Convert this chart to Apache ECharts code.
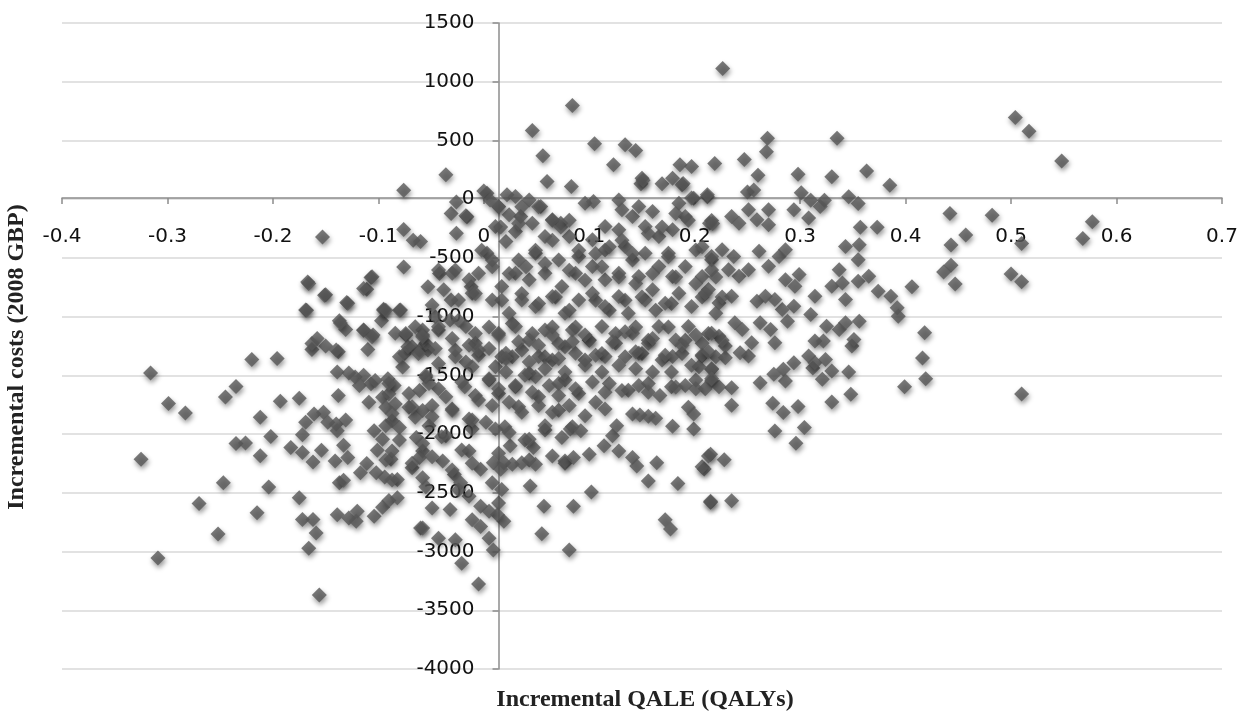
<!DOCTYPE html>
<html>
<head>
<meta charset="utf-8">
<script src="https://cdn.jsdelivr.net/npm/echarts@6/dist/echarts.min.js"></script>
<style>
html,body{margin:0;padding:0;background:#fff;}
#chart{width:1243px;height:714px;}
</style>
</head>
<body>
<div id="chart"></div>
<script>
// Axis ticks
const xTicks = [-0.4,-0.3,-0.2,-0.1,0,0.1,0.2,0.3,0.4,0.5,0.6,0.7];
const yTicks = [-4000,-3500,-3000,-2500,-2000,-1500,-1000,-500,0,500,1000,1500];

// [incremental QALE, incremental cost] pairs, grouped by region of the plot
const farLeft = [[-0.316,-1480],[-0.299,-1740],[-0.283,-1820],[-0.325,-2215],[-0.309,-3055],[-0.270,-2590],[-0.252,-2850],[-0.247,-2415],[-0.245,-1685],[-0.235,-1595],[-0.220,-1365],[-0.196,-1357],[-0.235,-2080],[-0.226,-2075],[-0.212,-1857],[-0.202,-2020],[-0.212,-2185],[-0.215,-2670],[-0.204,-2450],[-0.193,-1720],[-0.175,-1694],[-0.183,-2114],[-0.172,-2157],[-0.162,-2237],[-0.175,-2543],[-0.172,-2728],[-0.162,-2728],[-0.159,-2843],[-0.166,-2971],[-0.156,-3371]];

const midLeft = [[-0.167,-706],[-0.150,-814],[-0.169,-943],[-0.158,-1186],[-0.150,-1251],[-0.163,-1280],[-0.138,-1300],[-0.130,-880],[-0.137,-1034],[-0.131,-1109],[-0.111,-766],[-0.107,-666],[-0.076,-577],[-0.114,-1114],[-0.105,-1157],[-0.095,-937],[-0.097,-1034],[-0.079,-943],[-0.110,-1280],[-0.139,-1471],[-0.128,-1480],[-0.138,-1671],[-0.161,-1828],[-0.152,-1814],[-0.169,-1900],[-0.172,-2006],[-0.148,-1900],[-0.140,-1914],[-0.131,-1880],[-0.139,-1971],[-0.154,-2137],[-0.133,-2094],[-0.141,-2229],[-0.129,-2200],[-0.137,-2414],[-0.133,-2394],[-0.139,-2686],[-0.128,-2714],[-0.120,-2657],[-0.121,-2743],[-0.104,-1971],[-0.111,-2251],[-0.102,-2329],[-0.094,-2366],[-0.082,-2386],[-0.117,-2329],[-0.104,-2700],[-0.096,-2623],[-0.090,-2566],[-0.082,-2543],[-0.060,-2800],[-0.122,-1514],[-0.114,-1500],[-0.118,-1586],[-0.107,-1571],[-0.103,-1543],[-0.091,-1529],[-0.085,-1586],[-0.109,-1729],[-0.096,-1686],[-0.090,-1657],[-0.093,-1771],[-0.084,-1743],[-0.087,-1886],[-0.093,-1928],[-0.080,-1943],[-0.096,-2043],[-0.101,-2137],[-0.087,-2143],[-0.088,-2214],[-0.074,-1157],[-0.075,-1314],[-0.077,-1429],[-0.068,-1257],[-0.071,-1771],[-0.068,-2286],[-0.064,-2029],[-0.061,-1629],[-0.058,-1800],[-0.065,-1857],[-0.058,-2143],[-0.061,-2200],[-0.058,-2371],[-0.055,-1514],[-0.058,-1114],[-0.061,-1286]];

const nearAxisUpper = [[-0.076,77],[-0.036,207],[-0.031,-122],[-0.016,-150],[-0.026,-23],[-0.026,-291],[-0.076,-258],[-0.067,-349],[-0.153,-321],[-0.106,-661],[-0.114,-760],[-0.166,-717],[-0.151,-817],[-0.129,-885],[-0.168,-945],[-0.095,-945],[-0.080,-945],[-0.042,-632],[-0.027,-604],[-0.053,-746],[-0.012,-746],[-0.031,-859],[-0.046,-1002],[-0.065,-1087],[-0.084,-1141],[-0.136,-1055],[-0.114,-1115],[-0.072,-1257],[-0.053,-1285],[-0.163,-1228],[-0.140,-1285],[-0.106,-1172],[0.003,51],[-0.017,-142],[-0.060,-361],[-0.043,-602],[-0.030,-630],[-0.014,-687],[-0.038,-772],[-0.024,-858],[-0.049,-900],[-0.011,-801],[-0.005,-630],[-0.032,-1028],[-0.017,-1085],[-0.043,-1113],[-0.055,-1227],[-0.008,-1227],[-0.027,-1284]];

const nearAxisLower = [[-0.014,-2143],[-0.039,-2229],[-0.028,-2343],[-0.003,-2300],[-0.022,-2414],[-0.014,-2529],[-0.049,-2629],[-0.032,-2643],[-0.011,-2729],[-0.003,-2614],[-0.058,-2800],[-0.043,-2886],[-0.027,-2900],[-0.021,-3100],[-0.005,-3277],[-0.003,-2786],[-0.058,-1157],[-0.046,-1271],[-0.030,-1186],[-0.014,-1243],[-0.017,-1386],[-0.005,-1329],[-0.055,-1500],[-0.043,-1614],[-0.021,-1557],[-0.008,-1671],[-0.049,-1757],[-0.030,-1786],[-0.014,-1871],[-0.052,-1929],[-0.036,-2014],[-0.011,-1957]];

const leftCore = [[-0.093,-945],[-0.074,-1143],[-0.058,-1172],[-0.043,-1087],[-0.024,-1030],[-0.008,-1143],[-0.080,-1342],[-0.062,-1313],[-0.043,-1398],[-0.027,-1342],[-0.011,-1427],[-0.090,-1569],[-0.071,-1654],[-0.052,-1569],[-0.036,-1682],[-0.018,-1597],[-0.005,-1710],[-0.087,-1824],[-0.068,-1767],[-0.049,-1852],[-0.030,-1796],[-0.011,-1881],[-0.080,-2051],[-0.058,-2080],[-0.040,-2023],[-0.021,-2136],[-0.093,-2221],[-0.068,-2249],[-0.049,-2193],[-0.030,-2306],[-0.011,-2249],[-0.087,-2391],[-0.055,-2448],[-0.024,-2476],[0.011,-1427],[0.027,-1342],[0.043,-1483],[0.065,-1370],[0.077,-1540],[0.014,-1654],[0.033,-1767],[0.052,-1682],[0.071,-1796],[0.020,-1938],[0.039,-2051],[0.058,-1966],[0.084,-1938],[0.014,-2164],[0.043,-2221],[0.077,-2249]];

const aboveZero = [[0.000,70],[0.046,585],[0.056,369],[0.060,150],[0.084,798],[0.083,108],[0.105,471],[0.123,293],[0.134,463],[0.144,415],[0.150,179],[0.149,131],[0.169,131],[0.179,179],[0.188,122],[0.186,293],[0.197,278],[0.2265,1112],[0.504,695],[0.517,579],[0.548,326],[0.269,519],[0.268,403],[0.335,519],[0.363,241],[0.385,119],[0.330,190],[0.298,213],[0.260,204],[0.247,338],[0.219,304],[0.151,162],[0.189,133],[0.212,20],[0.199,8],[0.250,62],[0.256,78],[0.301,54],[0.310,-9],[0.323,-9],[0.346,20],[0.355,-36]];

const farRight = [[0.442,-122],[0.482,-136],[0.577,-193],[0.568,-335],[0.457,-306],[0.443,-391],[0.510,-377],[0.443,-562],[0.436,-619],[0.447,-723],[0.500,-638],[0.510,-704],[0.406,-746],[0.418,-1138],[0.416,-1353],[0.510,-1659],[0.235,-2567],[0.215,-2581],[0.312,-1438]];

const rightCluster = [[0.319,-62],[0.294,-91],[0.270,-91],[0.251,-91],[0.235,-147],[0.242,-204],[0.259,-175],[0.270,-218],[0.216,-181],[0.308,-161],[0.357,-238],[0.373,-238],[0.343,-402],[0.356,-388],[0.355,-515],[0.337,-600],[0.330,-741],[0.340,-713],[0.343,-855],[0.355,-699],[0.365,-657],[0.374,-784],[0.386,-826],[0.392,-925],[0.393,-996],[0.314,-826],[0.299,-642],[0.286,-685],[0.295,-741],[0.294,-911],[0.283,-940],[0.310,-982],[0.288,-1039],[0.325,-1081],[0.337,-1109],[0.343,-1053],[0.356,-1039],[0.349,-1251],[0.351,-1194],[0.314,-1208],[0.322,-1208],[0.308,-1336],[0.314,-1392],[0.324,-1364],[0.330,-1463],[0.321,-1534],[0.346,-1472],[0.348,-1661],[0.330,-1726],[0.419,-1528],[0.399,-1596],[0.294,-1392],[0.284,-1449],[0.286,-1548],[0.275,-1491],[0.262,-1562],[0.274,-1738],[0.284,-1817],[0.298,-1766],[0.304,-1944],[0.276,-1973],[0.296,-2077],[0.235,-1605],[0.235,-1755],[0.215,-2171],[0.228,-2219],[0.209,-2298],[0.216,-1548],[0.251,-1336],[0.243,-1307],[0.229,-1350],[0.254,-1223],[0.262,-1053],[0.272,-1109],[0.276,-1223],[0.259,-869],[0.267,-826],[0.276,-855],[0.261,-444],[0.270,-572],[0.280,-487],[0.286,-430],[0.238,-1053],[0.245,-1109],[0.223,-1166],[0.229,-1251],[0.242,-657],[0.251,-600],[0.232,-600],[0.237,-487],[0.226,-430],[0.216,-515],[0.223,-883],[0.235,-826],[0.213,-770],[0.216,-1449],[0.207,-1336]];

const coreUpper = [[0.006,-6],[0.014,-62],[0.022,37],[0.030,23],[0.043,-6],[0.054,-62],[0.035,-148],[0.024,-133],[0.011,-233],[0.003,-460],[0.008,-517],[0.021,-361],[0.030,-275],[0.046,-204],[0.065,-176],[0.073,-204],[0.058,-318],[0.081,-318],[0.096,-34],[0.104,-20],[0.128,-6],[0.131,-91],[0.141,-148],[0.147,-62],[0.160,-105],[0.185,-34],[0.197,9],[0.212,37],[0.191,-148],[0.214,-204],[0.115,-233],[0.103,-346],[0.128,-261],[0.153,-233],[0.166,-318],[0.179,-261],[0.115,-432],[0.134,-403],[0.153,-460],[0.175,-460],[0.201,-432],[0.216,-488],[0.033,-517],[0.049,-460],[0.071,-517],[0.090,-488],[0.030,-630],[0.017,-744],[0.043,-687],[0.058,-630],[0.074,-744],[0.087,-630],[0.103,-574],[0.115,-687],[0.128,-630],[0.141,-517],[0.147,-659],[0.166,-574],[0.179,-659],[0.191,-574],[0.207,-659],[0.216,-602]];

const coreExtra = [[0.014,-65],[0.036,-65],[0.052,-65],[0.016,-236],[0.033,-207],[0.049,-434],[0.065,-179],[0.073,-236],[0.081,-179],[0.065,-349],[0.090,-434],[0.106,-462],[0.119,-405],[0.131,-349],[0.141,-462],[0.156,-292],[0.169,-236],[0.182,-122],[0.194,-179],[0.217,-207],[0.207,-405],[0.175,-491],[-0.002,-434],[0.008,-576],[0.024,-633],[0.040,-576],[0.058,-548],[0.081,-605],[0.096,-690],[0.112,-576],[0.128,-662],[0.144,-718],[0.160,-633],[0.182,-662],[0.201,-718],[0.220,-662],[-0.008,-803],[0.017,-860],[0.036,-803],[0.052,-888],[0.068,-832],[0.081,-945],[0.106,-860],[0.119,-945],[0.134,-860],[0.150,-832],[0.163,-945],[0.178,-888],[0.207,-832],[0.226,-832],[0.005,-1088],[0.027,-1058],[0.046,-1143],[0.065,-1088],[0.087,-1088],[0.100,-1200],[0.125,-1143],[0.144,-1088],[0.156,-1200],[0.175,-1088],[0.191,-1200],[0.213,-1143],[0.226,-1200],[-0.005,-1285],[0.017,-1342],[0.036,-1285],[0.058,-1342],[0.077,-1257],[0.096,-1370],[0.112,-1313],[0.134,-1342],[0.150,-1313],[0.169,-1370],[0.188,-1313],[0.204,-1427],[0.220,-1342],[0.005,-1540],[0.030,-1597],[0.049,-1512],[0.071,-1569],[0.090,-1654],[0.119,-1569],[0.137,-1626],[0.156,-1569],[0.178,-1597],[0.201,-1540],[0.223,-1597]];

const coreMiddle = [[0.008,-858],[0.024,-971],[0.036,-858],[0.049,-914],[0.065,-829],[0.077,-971],[0.090,-858],[0.103,-801],[0.115,-914],[0.128,-829],[0.137,-971],[0.153,-858],[0.160,-772],[0.172,-886],[0.185,-801],[0.197,-914],[0.210,-801],[0.220,-971],[0.014,-1142],[0.030,-1085],[0.043,-1198],[0.058,-1113],[0.071,-1227],[0.084,-1113],[0.100,-1198],[0.112,-1085],[0.125,-1227],[0.141,-1142],[0.156,-1227],[0.166,-1085],[0.182,-1198],[0.194,-1085],[0.207,-1227],[0.216,-1142],[0.021,-1312],[0.052,-1340],[0.087,-1312],[0.115,-1340],[0.147,-1312],[0.179,-1340],[0.207,-1326]];

const coreLower = [[0.005,-1271],[0.014,-1157],[0.021,-1357],[0.033,-1214],[0.043,-1386],[0.052,-1243],[0.065,-1157],[0.071,-1357],[0.084,-1214],[0.096,-1157],[0.106,-1329],[0.122,-1214],[0.134,-1129],[0.144,-1300],[0.160,-1186],[0.172,-1329],[0.188,-1243],[0.201,-1157],[0.213,-1300],[0.216,-1443],[0.197,-1414],[0.178,-1471],[0.160,-1471],[0.144,-1443],[0.128,-1414],[0.112,-1471],[0.096,-1414],[0.077,-1471],[0.058,-1443],[0.039,-1500],[0.021,-1471],[0.005,-1529],[0.014,-1614],[0.030,-1586],[0.046,-1643],[0.062,-1586],[0.071,-1671],[0.087,-1614],[0.103,-1557],[0.115,-1643],[0.147,-1586],[0.156,-1643],[0.191,-1586],[0.210,-1614],[0.008,-1757],[0.024,-1729],[0.036,-1814],[0.052,-1757],[0.065,-1814],[0.081,-1757],[0.096,-1843],[0.106,-1729],[0.115,-1786],[0.002,-1900],[0.011,-1957]];

const bottomCluster = [[0.005,-2886],[0.009,-2986],[0.008,-2414],[0.014,-2586],[0.019,-2743],[0.013,-2686],[0.005,-2657],[0.017,-2471],[0.009,-2243],[0.019,-2243],[0.027,-2257],[0.036,-2243],[0.016,-2300],[0.025,-2100],[0.047,-2114],[0.049,-2257],[0.044,-2443],[0.057,-2614],[0.055,-2849],[0.081,-2986],[0.085,-2614],[0.102,-2494],[0.077,-2229],[0.085,-2200],[0.082,-1957],[0.092,-1971],[0.100,-2171],[0.114,-2100],[0.122,-2014],[0.128,-2143],[0.126,-1929],[0.141,-2200],[0.145,-2271],[0.156,-2400],[0.164,-2243],[0.172,-2729],[0.177,-2809],[0.184,-2420],[0.207,-2277],[0.213,-2186],[0.215,-2571],[0.141,-1829],[0.148,-1837],[0.156,-1849],[0.163,-1866],[0.131,-1629],[0.167,-1671],[0.179,-1934],[0.199,-1957],[0.194,-1771],[0.199,-1829],[0.201,-1614],[0.216,-1529],[0.182,-1600],[0.074,-2029],[0.065,-2186],[0.024,-1986],[0.043,-2043],[0.058,-1929]];

const allPoints = [].concat(farLeft, midLeft, nearAxisUpper, nearAxisLower, leftCore, aboveZero, farRight, rightCluster, coreUpper, coreExtra, coreMiddle, coreLower, bottomCluster);

const GRID = {left: 62, right: 21, top: 23, bottom: 45};
const chart = echarts.init(document.getElementById('chart'), null, {renderer: 'canvas'});
const tickFont = {fontFamily: 'DejaVu Sans', fontSize: 20, color: '#111'};
const axisLineStyle = {color: '#8c8c8c', width: 1.5};
const titleFont = 'bold 24px "Liberation Serif"';
chart.setOption({
  animation: false,
  backgroundColor: '#ffffff',
  grid: Object.assign({containLabel: false}, GRID),
  xAxis: {
    type: 'value', position: 'bottom', offset: 0,
    min: xTicks[0], max: xTicks[xTicks.length - 1], interval: 0.1,
    axisLine: {show: true, onZero: false, lineStyle: axisLineStyle},
    axisTick: {show: true, inside: false, length: 6, lineStyle: axisLineStyle},
    axisLabel: Object.assign({margin: 29, formatter: v => String(Math.round(v * 10) / 10)}, tickFont),
    splitLine: {show: false}
  },
  yAxis: {
    type: 'value', position: 'left', offset: 0,
    min: yTicks[0], max: yTicks[yTicks.length - 1], interval: 500,
    axisLine: {show: true, onZero: false, lineStyle: axisLineStyle},
    axisTick: {show: true, inside: false, length: 6, lineStyle: axisLineStyle},
    axisLabel: Object.assign({margin: 24, formatter: v => String(Math.round(v))}, tickFont),
    splitLine: {show: true, lineStyle: {color: '#d9d9d9', width: 1.5}}
  },
  graphic: [
    {type: 'text', x: 645, y: 700, style: {text: 'Incremental QALE (QALYs)', font: titleFont, fill: '#222', textAlign: 'center', textVerticalAlign: 'middle'}},
    {type: 'text', x: 17, y: 357, rotation: Math.PI / 2, style: {text: 'Incremental costs (2008 GBP)', font: titleFont, fill: '#222', textAlign: 'center', textVerticalAlign: 'middle'}}
  ],
  series: [{
    type: 'scatter',
    data: allPoints,
    symbol: 'diamond',
    symbolSize: 15,
    itemStyle: {color: '#585858', shadowColor: 'rgba(0,0,0,0.5)', shadowBlur: 5, shadowOffsetX: 1, shadowOffsetY: 3},
    emphasis: {disabled: true}
  }]
});

// Move both axes (line, ticks, labels) so they cross at the origin, as in the reference.
const origin = chart.convertToPixel({gridIndex: 0}, [0, 0]);
const gridBottomPx = chart.getHeight() - GRID.bottom;
chart.setOption({
  xAxis: {offset: -(gridBottomPx - origin[1])},
  yAxis: {offset: -(origin[0] - GRID.left)}
});
</script>
</body>
</html>
